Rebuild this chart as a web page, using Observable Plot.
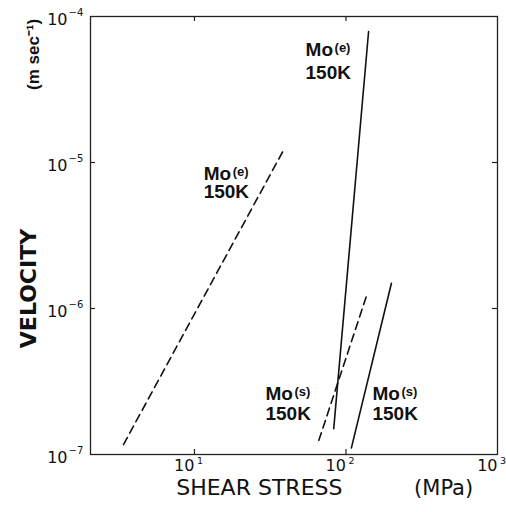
<!DOCTYPE html>
<html>
<head>
<meta charset="utf-8">
<script src="https://cdn.jsdelivr.net/npm/d3@7"></script>
<script src="https://cdn.jsdelivr.net/npm/@observablehq/plot@0.6"></script>
<style>
  html, body { margin: 0; padding: 0; background: #fff; }
  svg { display: block; }
</style>
</head>
<body>
<div id="chart"></div>
<script>
// ---- data ----
const xTicks = [10, 100, 1000];
const xTickExps = ["1", "2", "3"];
const yTicks = [1e-7, 1e-6, 1e-5, 1e-4];
const yTickExps = ["−7", "−6", "−5", "−4"];

// Four lines (stress in MPa, velocity in m/s)
const lineA_x = [3.4, 39.3];     // Mo(e) 150K dashed
const lineA_y = [1.17e-7, 1.25e-5];
const lineB_x = [83, 141];       // Mo(e) 150K solid
const lineB_y = [1.5e-7, 7.9e-5];
const lineC_x = [66.2, 138];     // Mo(s) 150K dashed
const lineC_y = [1.25e-7, 1.26e-6];
const lineD_x = [108.6, 199.5];  // Mo(s) 150K solid
const lineD_y = [1.11e-7, 1.49e-6];

// label anchors (data coords)
const labelNames = ["Mo", "Mo", "Mo", "Mo"];
const labelSubs = ["(e)", "(e)", "(s)", "(s)"];
const labelX = [11.5, 54.1, 29.4, 149.6];
const labelY = [8.4e-6, 5.94e-5, 2.62e-7, 2.62e-7];
const label2Y = [6.24e-6, 4.13e-5, 1.91e-7, 1.91e-7];
const labelTemp = "150K";

const xTitle = "SHEAR STRESS";
const xUnit = "(MPa)";
const yTitle = "VELOCITY";
const yUnit = "(m sec⁻¹)";

// ---- build tables ----
function mk(id, xs, ys) {
  return xs.map((x, i) => ({id, x, y: ys[i]}));
}
const solid = [...mk("B", lineB_x, lineB_y), ...mk("D", lineD_x, lineD_y)];
const dashed = [...mk("A", lineA_x, lineA_y), ...mk("C", lineC_x, lineC_y)];
const labels = labelNames.map((n, i) => ({name: n, sub: labelSubs[i], x: labelX[i], y: labelY[i], y2: label2Y[i]}));

const W = 506, H = 512;
const mL = 90, mT = 16, mR = 9, mB = 58;
const innerH = H - mT - mB, innerW = W - mL - mR;
const font = "'Liberation Sans', Arial, Helvetica, sans-serif";
const wide = "'DejaVu Sans', Verdana, sans-serif";

const chart = Plot.plot({
  width: W,
  height: H,
  marginLeft: mL,
  marginTop: mT,
  marginRight: mR,
  marginBottom: mB,
  style: {fontFamily: font, color: "#111", background: "#fff"},
  x: {type: "log", domain: [2.06, 1000], axis: null},
  y: {type: "log", domain: [1e-7, 1e-4], axis: null},
  marks: [
    Plot.frame({stroke: "#222", strokeWidth: 1.3}),
    // inward ticks on all four sides
    Plot.tickX(xTicks.slice(0, 2), {x: d => d, stroke: "#222", strokeWidth: 1.2, insetTop: innerH - 5}),
    Plot.tickX(xTicks.slice(0, 2), {x: d => d, stroke: "#222", strokeWidth: 1.2, insetBottom: innerH - 5}),
    Plot.tickY(yTicks.slice(1, 3), {y: d => d, stroke: "#222", strokeWidth: 1.2, insetRight: innerW - 5}),
    Plot.tickY(yTicks.slice(1, 3), {y: d => d, stroke: "#222", strokeWidth: 1.2, insetLeft: innerW - 5}),
    // x tick labels
    Plot.text(xTicks, {x: d => d, frameAnchor: "bottom", text: () => "10", textAnchor: "end", dx: 0, dy: 16, fontSize: 16, fontFamily: wide, fill: "#111"}),
    Plot.text(xTicks, {x: d => d, frameAnchor: "bottom", text: (d, i) => xTickExps[i], textAnchor: "start", dx: 2.5, dy: 9, fontSize: 9.5, fontFamily: wide, fill: "#111"}),
    // y tick labels
    Plot.text(yTicks, {y: d => d, frameAnchor: "left", text: () => "10", textAnchor: "end", dx: -23, dy: 3, fontSize: 16, fontFamily: wide, fill: "#111"}),
    Plot.text(yTicks, {y: d => d, frameAnchor: "left", text: (d, i) => yTickExps[i], textAnchor: "start", dx: -22, dy: -4, fontSize: 10, fontFamily: wide, fill: "#111"}),
    // lines
    Plot.line(solid, {x: "x", y: "y", z: "id", stroke: "#111", strokeWidth: 1.6}),
    Plot.line(dashed, {x: "x", y: "y", z: "id", stroke: "#111", strokeWidth: 1.6, strokeDasharray: "8,5"}),
    // line labels
    Plot.text(labels, {x: "x", y: "y", text: "name", textAnchor: "start", fontSize: 19, fontWeight: "bold", fill: "#111"}),
    Plot.text(labels, {x: "x", y: "y", text: "sub", textAnchor: "start", dx: 29, dy: -2, fontSize: 13, fontWeight: "bold", fill: "#111"}),
    Plot.text(labels, {x: "x", y: "y2", text: () => labelTemp, textAnchor: "start", fontSize: 19, fontWeight: "bold", fill: "#111"}),
    // axis titles
    Plot.text([xTitle], {x: [26.8], frameAnchor: "bottom", textAnchor: "middle", dy: 40, fontSize: 22, fontFamily: wide, fill: "#111", text: d => d}),
    Plot.text([xUnit], {x: [441], frameAnchor: "bottom", textAnchor: "middle", dy: 40, fontSize: 21, fontFamily: wide, fill: "#111", text: d => d}),
    Plot.text([yTitle], {y: [1.37e-6], frameAnchor: "left", textAnchor: "middle", rotate: -90, dx: -62, fontSize: 22, fontWeight: "bold", fontFamily: wide, fill: "#111", text: d => d}),
    Plot.text([yUnit], {y: [5.5e-5], frameAnchor: "left", textAnchor: "middle", rotate: -90, dx: -57, fontSize: 17, fontWeight: "bold", fontFamily: font, fill: "#111", text: d => d})
  ]
});
document.getElementById("chart").appendChild(chart);
</script>
</body>
</html>
